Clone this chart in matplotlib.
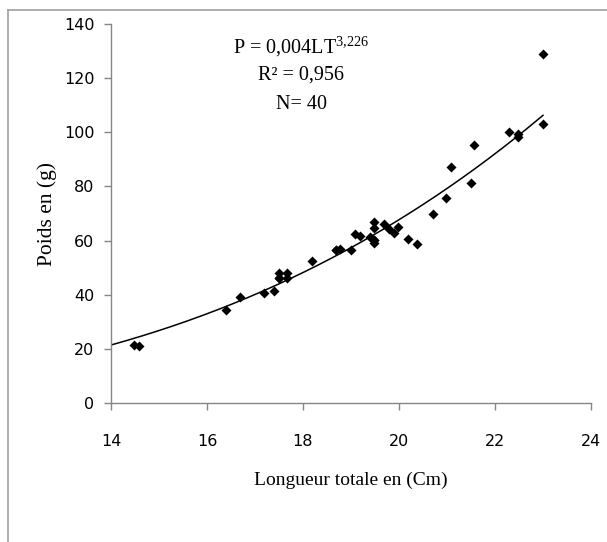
import numpy as np
import matplotlib
matplotlib.use("Agg")
import matplotlib.pyplot as plt
from matplotlib.lines import Line2D

plt.rcParams["mathtext.fontset"] = "custom"
plt.rcParams["mathtext.rm"] = "Liberation Serif"
plt.rcParams["mathtext.it"] = "Liberation Serif"

# Total length (cm) and weight (g) of the sampled fish
length_cm = [14.48, 14.59, 16.39, 16.68, 17.19, 17.40, 17.50, 17.50, 17.67, 17.67,
             18.19, 18.69, 18.78, 18.99, 19.09, 19.19, 19.39, 19.48, 19.48, 19.48,
             19.48, 19.69, 19.80, 19.90, 19.98, 20.18, 20.38, 20.70, 20.98, 21.08,
             21.49, 21.57, 22.30, 22.48, 22.48, 22.99, 22.99, 19.48, 18.69, 17.50]
weight_g = [21.5, 21.0, 34.3, 39.0, 40.8, 41.3, 48.0, 46.0, 48.0, 46.0,
            52.3, 56.4, 56.9, 56.4, 62.3, 61.8, 61.3, 67.0, 64.6, 60.1,
            59.2, 66.2, 64.1, 62.8, 65.1, 60.5, 58.7, 69.8, 75.7, 87.2,
            81.3, 95.4, 100.0, 99.4, 98.1, 129.0, 102.9, 60.1, 56.4, 46.0]

# Power trendline P = a * LT^b
coef_a = 0.0043
coef_b = 3.226

x_ticks = [14, 16, 18, 20, 22, 24]
y_ticks = [0, 20, 40, 60, 80, 100, 120, 140]

W, H = 607, 542
fig = plt.figure(figsize=(W / 100, H / 100), dpi=100)

# outer frame (left and top edges visible)
frame_color = "#a0a0a0"
fig.add_artist(Line2D([8 / W, 8 / W], [0, 1 - 10 / H], transform=fig.transFigure,
                      color=frame_color, lw=1.2))
fig.add_artist(Line2D([8 / W, 1], [1 - 10 / H, 1 - 10 / H], transform=fig.transFigure,
                      color=frame_color, lw=1.2))

left, right, top, bottom = 111, 591, 24, 403
ax = fig.add_axes([left / W, 1 - bottom / H, (right - left) / W, (bottom - top) / H])

ax.scatter(length_cm, weight_g, marker="D", s=26, color="black", zorder=3, linewidths=0)

xs = np.linspace(14, 23, 200)
ax.plot(xs, coef_a * xs ** coef_b, color="black", lw=1.1, zorder=2)

ax.set_xlim(14, 24)
ax.set_ylim(0, 140)
ax.set_xticks(x_ticks)
ax.set_yticks(y_ticks)

axis_color = "#868686"
for side in ["top", "right"]:
    ax.spines[side].set_visible(False)
for side in ["left", "bottom"]:
    ax.spines[side].set_color(axis_color)
    ax.spines[side].set_linewidth(1.0)

tick_font = ["Liberation Sans Narrow", "DejaVu Sans"]
ax.tick_params(axis="both", direction="out", length=5, width=1.0, color=axis_color,
               labelsize=11.5, labelcolor="black")
ax.tick_params(axis="x", pad=17)
ax.tick_params(axis="y", pad=7)
for lbl in ax.get_xticklabels() + ax.get_yticklabels():
    lbl.set_family(tick_font)

serif = ["Liberation Serif", "DejaVu Serif"]
ax.set_xlabel("Longueur totale en (Cm)", family=serif, fontsize=14, labelpad=17)
ax.set_ylabel("Poids en (g)", family=serif, fontsize=15.5)
ax.yaxis.set_label_coords(-(left - 57) / (right - left), 0.5)

eq = r"P = 0,004LT$^{3{,}226}$"
fig.text(301 / W, 1 - 47 / H, eq, ha="center", va="center", family=serif, fontsize=14.5)
fig.text(301 / W, 1 - 75 / H, "R² = 0,956", ha="center", va="center", family=serif, fontsize=14.5)
fig.text(301 / W, 1 - 104 / H, "N= 40", ha="center", va="center", family=serif, fontsize=14.5)

fig.savefig("out.png", dpi=100)
